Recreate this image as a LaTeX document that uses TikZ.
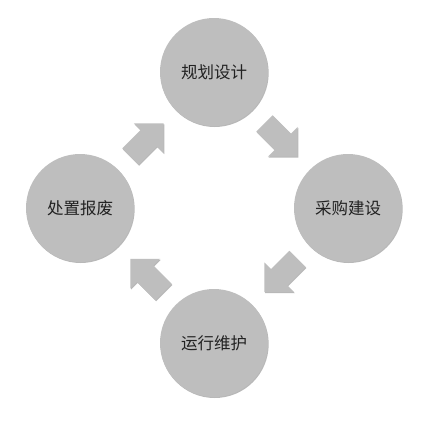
\documentclass[tikz,border=0pt]{standalone}
\usepackage{fontspec}
\newfontfamily\cjk{Noto Sans CJK SC}
\usetikzlibrary{calc,shadows}
\definecolor{discgray}{RGB}{190,190,190}
\definecolor{txtgray}{RGB}{34,34,34}
\tikzset{
  stage/.style={circle, fill=discgray, minimum size=108pt, inner sep=0pt,
    text=txtgray, font=\cjk\fontsize{16.5pt}{18pt}\selectfont,
    drop shadow={shadow xshift=0.7pt, shadow yshift=-1pt, fill=black, opacity=0.28}},
  pics/blockarrow/.style={code={
    \fill[discgray, drop shadow={shadow xshift=0.7pt, shadow yshift=-1pt, fill=black, opacity=0.28}]
      (-23.5,-11.5) -- (2.5,-11.5) -- (2.5,-21) -- (23.5,0) -- (2.5,21) -- (2.5,11.5) -- (-23.5,11.5) -- cycle;
  }}
}
\begin{document}
\begin{tikzpicture}[x=1pt,y=1pt]
\fill[white] (0,0) rectangle (429,-421);
\useasboundingbox (0,0) rectangle (429,-421);
\node[stage] (T) at (214,-72) {规划设计};
\node[stage] (R) at (348,-208) {采购建设};
\node[stage] (B) at (214,-343) {运行维护};
\node[stage] (L) at (80,-208) {处置报废};
\coordinate (aTL) at ($(L)!0.5!(T)$);
\coordinate (aTR) at ($(T)!0.5!(R)$);
\coordinate (aBR) at ($(R)!0.5!(B)$);
\coordinate (aBL) at ($(B)!0.5!(L)$);
\pic[rotate=45] at (aTL) {blockarrow};
\pic[rotate=-45] at (aTR) {blockarrow};
\pic[rotate=-135] at (aBR) {blockarrow};
\pic[rotate=135] at (aBL) {blockarrow};
\end{tikzpicture}
\end{document}
